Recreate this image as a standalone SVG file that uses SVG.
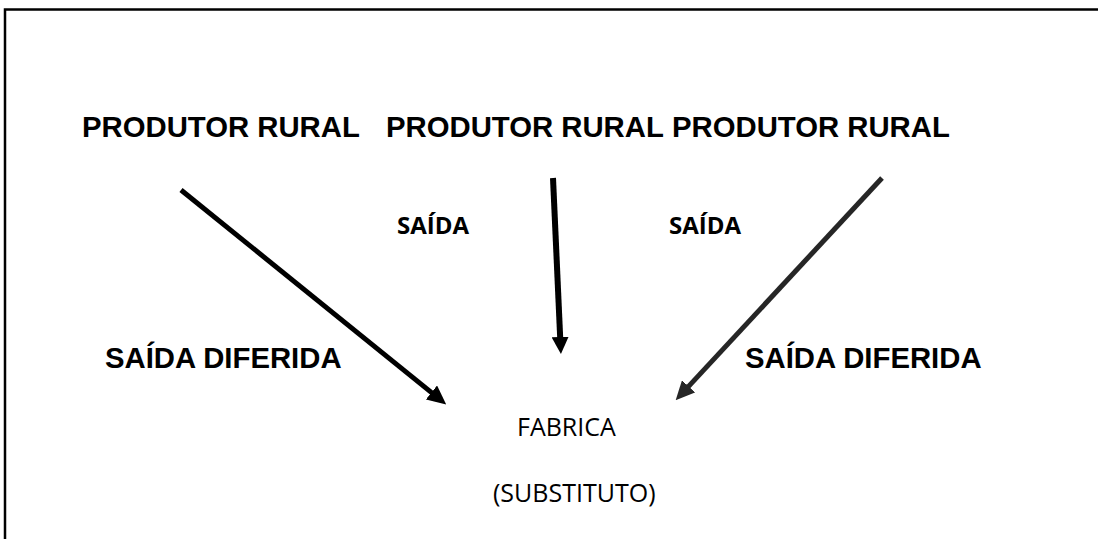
<svg xmlns="http://www.w3.org/2000/svg" width="1099" height="539" viewBox="0 0 1099 539">
<style>
.pr{font-family:"Liberation Sans",Arial,sans-serif;font-weight:bold;font-size:29.3px;fill:#000}
.sd{font-family:"Liberation Sans",Arial,sans-serif;font-weight:bold;font-size:29.3px;fill:#000}
.s{font-family:"Open Sans","Liberation Sans",sans-serif;font-weight:bold;font-size:24px;fill:#000}
.f{font-family:"Open Sans","Liberation Sans",sans-serif;font-size:25px;fill:#000}
.ln{fill:none}
</style>
<defs>
<marker id="ahk" viewBox="0 0 19 18" refX="1" refY="9" markerWidth="19" markerHeight="18" orient="auto" markerUnits="userSpaceOnUse">
<path d="M0,0 L19,9 L0,18 z" fill="#000"/>
</marker>
<marker id="ahm" viewBox="0 0 17 17" refX="1" refY="8.5" markerWidth="17" markerHeight="17" orient="auto" markerUnits="userSpaceOnUse">
<path d="M0,0 L17,8.5 L0,17 z" fill="#000"/>
</marker>
<marker id="ahg" viewBox="0 0 19 18" refX="1" refY="9" markerWidth="19" markerHeight="18" orient="auto" markerUnits="userSpaceOnUse">
<path d="M0,0 L19,9 L0,18 z" fill="#262626"/>
</marker>
</defs>
<rect x="0" y="0" width="1099" height="539" fill="#fff"/>
<path id="frame" d="M5,545 V9.5 H1098" fill="none" stroke="#000" stroke-width="2.5"/>
<g id="connectors">
<line class="ln" x1="181" y1="190" x2="432.2" y2="393.1" stroke="#000" stroke-width="5" marker-end="url(#ahk)"/>
<line class="ln" x1="553" y1="178" x2="560.2" y2="338" stroke="#000" stroke-width="6" marker-end="url(#ahm)"/>
<line class="ln" x1="882" y1="178" x2="687.9" y2="387.1" stroke="#262626" stroke-width="5" marker-end="url(#ahg)"/>
</g>
<g id="produtor1"><text class="pr" x="82" y="137">PRODUTOR RURAL</text></g>
<g id="produtor2"><text class="pr" x="386" y="137">PRODUTOR RURAL</text></g>
<g id="produtor3"><text class="pr" x="672" y="137">PRODUTOR RURAL</text></g>
<g id="saida1"><text class="s" x="397" y="234">SAÍDA</text></g>
<g id="saida2"><text class="s" x="669" y="234">SAÍDA</text></g>
<g id="diferida1"><text class="sd" x="105" y="368">SAÍDA DIFERIDA</text></g>
<g id="diferida2"><text class="sd" x="745" y="368">SAÍDA DIFERIDA</text></g>
<g id="fabrica">
<text class="f" x="517" y="436">FABRICA</text>
<text class="f" x="493" y="502">(SUBSTITUTO)</text>
</g>
</svg>
